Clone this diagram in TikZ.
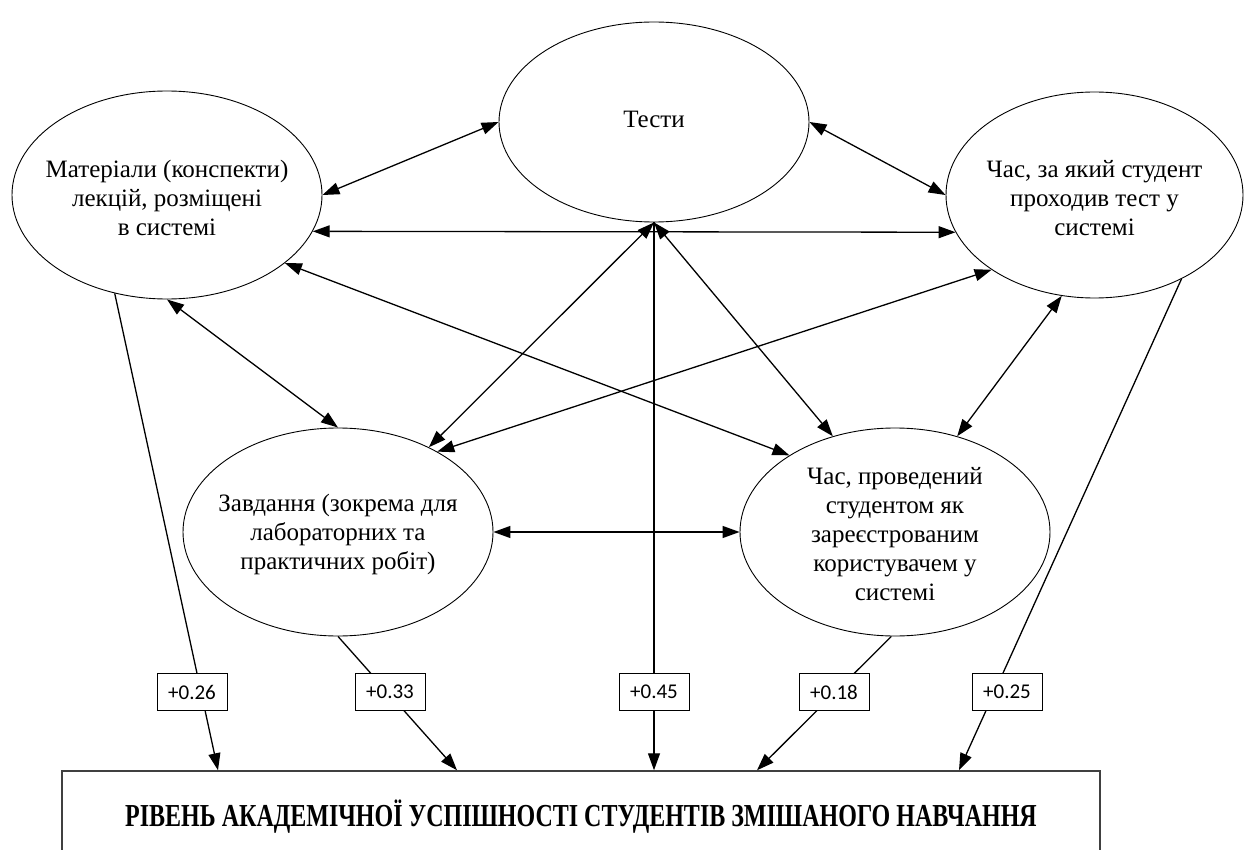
\documentclass[tikz,border=0pt]{standalone}
\usepackage{fontspec}
\setmainfont{Liberation Serif}
\newfontfamily\lblfont{Carlito}
\usetikzlibrary{shapes.geometric,arrows.meta}
\begin{document}
\begin{tikzpicture}[x=1pt,y=-1pt,
  ell/.style={ellipse,draw,line width=0.9pt,inner sep=0pt},
  txt/.style={align=center,inner sep=0pt,font=\fontsize{25}{29}\selectfont},
  coef/.style={draw,line width=0.9pt,fill=white,minimum width=70pt,minimum height=37pt,inner sep=0pt,font=\lblfont\fontsize{21}{25}\selectfont},
  tipa/.tip={Triangle[length=17pt,width=12pt]},
  link/.style={line width=1.3pt,tipa-tipa},
  flow/.style={line width=1.3pt,-tipa}]
\useasboundingbox (0,0) rectangle (1244,850);
% ellipses
\node[ell,minimum width=310pt,minimum height=200pt] (tests) at (654,122) {};
\node[ell,minimum width=310pt,minimum height=208pt] (mat) at (167,195) {};
\node[ell,minimum width=297pt,minimum height=206pt] (timetest) at (1094.5,195) {};
\node[ell,minimum width=310pt,minimum height=208pt] (task) at (338,532) {};
\node[ell,minimum width=310pt,minimum height=208pt] (timereg) at (895,532) {};
\node[txt] (tests-t) at (654,119) {Тести};
\node[txt] (mat-t) at (167,198) {Матеріали (конспекти)\\лекцій, розміщені\\в системі};
\node[txt] (timetest-t) at (1094.5,198) {Час, за який студент\\проходив тест у\\системі};
\node[txt] (task-t) at (338,534) {Завдання (зокрема для\\лабораторних та\\практичних робіт)};
\node[txt] (timereg-t) at (895,534) {Час, проведений\\студентом як\\зареєстрованим\\користувачем у\\системі};
% result box
\node[draw=black!75,line width=1.5pt,minimum width=1038pt,minimum height=92pt,inner sep=0pt] (result) at (581,817)
  {\fontsize{32}{36}\selectfont\bfseries\scalebox{0.75}[1]{РІВЕНЬ АКАДЕМІЧНОЇ УСПІШНОСТІ СТУДЕНТІВ ЗМІШАНОГО НАВЧАННЯ}};
\coordinate (e1) at (218,0);
\coordinate (e2) at (457,0);
\coordinate (e3) at (654,0);
\coordinate (e4) at (757,0);
\coordinate (e5) at (959,0);
% mutual links
\draw[link] (mat.0) -- (tests.180);
\draw[link] (tests.0) -- (timetest.180);
\draw[link] (mat.346) -- (timetest.195.7);
\draw[link] (mat.330.8) -- (timereg.144.3);
\draw[link] (mat.270) -- (task.90);
\draw[link] (tests.270) -- (task.43.4);
\draw[link] (tests.270) -- (timereg.123);
\draw[link] (timetest.216.2) -- (task.39.6);
\draw[link] (timetest.252.2) -- (timereg.57.8);
\draw[link] (task.0) -- (timereg.180);
% flows to result
\draw[flow] (mat.242.8) -- (result.north -| e1);
\draw[flow] (task.270) -- (result.north -| e2);
\draw[flow] (tests.270) -- (result.north -| e3);
\draw[flow] (timereg.268) -- (result.north -| e4);
\draw[flow] (timetest.316) -- (result.north -| e5);
% coefficients
\node[coef] (c1) at (192,692) {+0.26};
\node[coef] (c2) at (390,692) {+0.33};
\node[coef] (c3) at (654,692) {+0.45};
\node[coef] (c4) at (834,692) {+0.18};
\node[coef] (c5) at (1007,692) {+0.25};
\end{tikzpicture}
\end{document}
